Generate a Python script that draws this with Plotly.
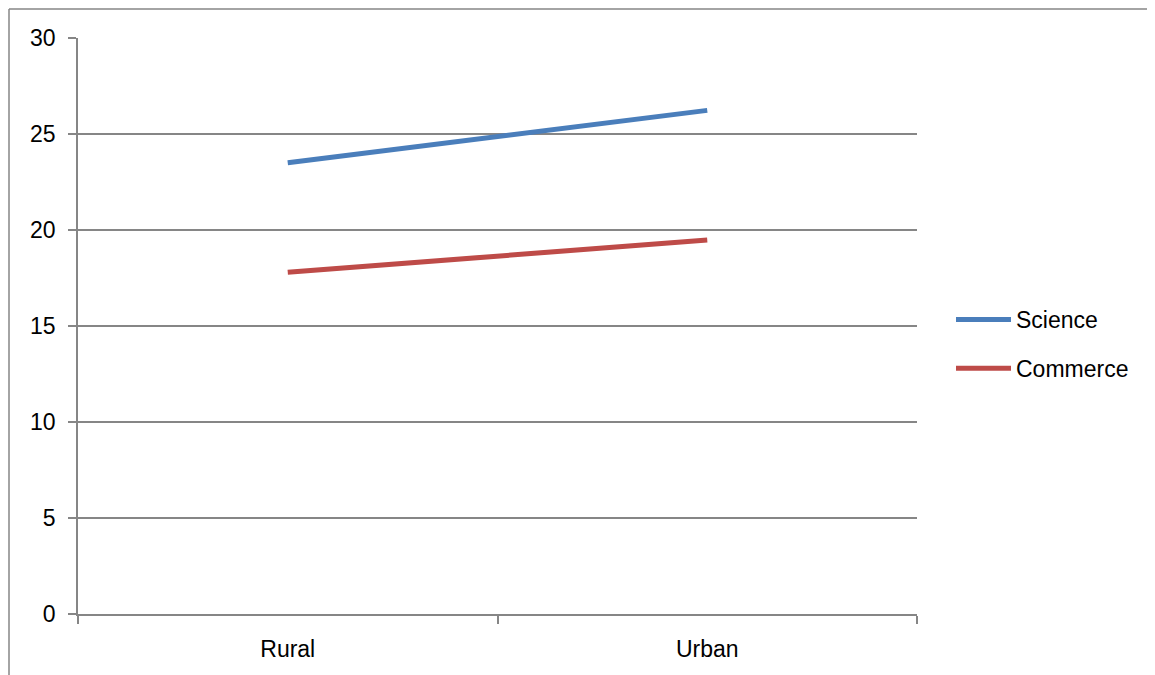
import plotly.graph_objects as go

categories = ["Rural", "Urban"]
science = [23.5, 26.23]
commerce = [17.8, 19.48]
y_ticks = [0, 5, 10, 15, 20, 25, 30]

GRAY = "#868686"
FONT = dict(family="Liberation Sans, Arial, sans-serif", size=23, color="#000000")

fig = go.Figure()
fig.add_trace(go.Scatter(x=categories, y=science, mode="lines", name="Science",
                         legendgroup="a",
                         line=dict(color="#4A7EBB", width=5)))
fig.add_trace(go.Scatter(x=categories, y=commerce, mode="lines", name="Commerce",
                         legendgroup="b",
                         line=dict(color="#BE4B48", width=5)))

OFF = 8  # page body offset
L, T = 78 - OFF, 38 - OFF
pw, ph = 839, 576
W, H = 1155 - 2 * OFF, 675 - OFF
R = W - L - pw
B = H - T - ph

bx = (9 - OFF - L) / pw
by_top = 1 + (T - (9 - OFF)) / ph
by_bot = -(H + 40 - T - ph) / ph
bx_right = (W + 40 - L) / pw

fig.update_layout(
    width=W, height=H,
    margin=dict(l=L, r=R, t=T, b=B, pad=0),
    paper_bgcolor="white", plot_bgcolor="white",
    font=FONT,
    showlegend=True,
    legend=dict(x=(951 - OFF - L) / pw, y=(T + ph - (344 - OFF)) / ph, xanchor="left", yanchor="middle",
                font=FONT, itemwidth=55, bgcolor="rgba(0,0,0,0)",
                traceorder="grouped", tracegroupgap=16),
    xaxis=dict(type="category", range=[-0.5, 1.5], showgrid=False, showline=True,
               linecolor=GRAY, linewidth=1.5,
               ticks="outside", tickson="boundaries", ticklen=8, tickcolor=GRAY, tickwidth=1.5,
               ticklabelstandoff=14, zeroline=False),
    yaxis=dict(range=[0, 30], tickvals=y_ticks, showgrid=True, gridcolor=GRAY, gridwidth=1.5,
               showline=True, linecolor=GRAY, linewidth=1.5, ticks="outside", ticklen=8,
               tickcolor=GRAY, tickwidth=1.5, ticklabelstandoff=8, zeroline=False),
    shapes=[
        dict(type="line", xref="paper", yref="paper", x0=bx, x1=bx, y0=by_bot, y1=by_top,
             line=dict(color=GRAY, width=1.5), layer="below"),
        dict(type="line", xref="paper", yref="paper", x0=bx, x1=bx_right, y0=by_top, y1=by_top,
             line=dict(color=GRAY, width=1.5), layer="below"),
    ],
)

fig.write_html("out.html")
